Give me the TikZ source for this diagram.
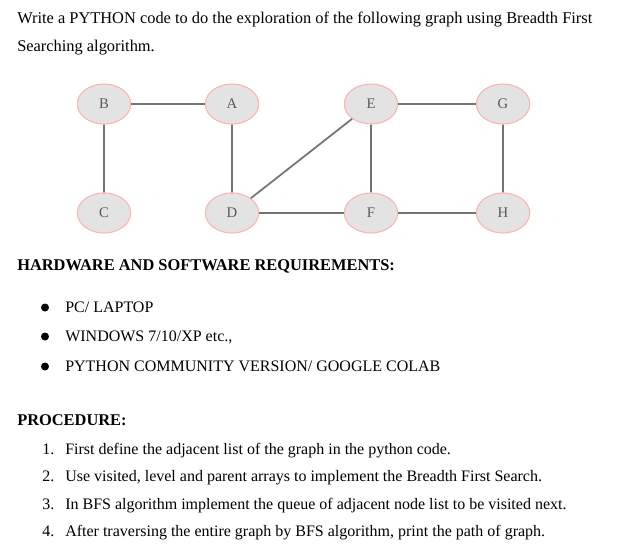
\documentclass[tikz,border=0pt]{standalone}
\usepackage{fontspec}
\setmainfont{Liberation Serif}
\usetikzlibrary{shapes.geometric}
\begin{document}
\begin{tikzpicture}[x=0.75pt,y=-0.75pt,
  vert/.style={ellipse,draw=red!30,fill=gray!22,line width=0.8pt,minimum width=40pt,minimum height=30pt,inner sep=0pt,text=gray!70!black,font=\fontsize{11}{13}\selectfont},
  edge/.style={draw=gray!90!black,line width=1.3pt},
  txt/.style={anchor=base west,inner sep=0pt,font=\fontsize{12.3}{14}\selectfont},
  ptxt/.style={anchor=base west,inner sep=0pt,font=\fontsize{12}{14}\selectfont}]
\useasboundingbox[fill=white] (0,0) rectangle (617,558);
\node[vert] (B) at (104,104) {B};
\node[vert] (A) at (232,104) {A};
\node[vert] (E) at (371,104) {E};
\node[vert] (G) at (503,104) {G};
\node[vert] (C) at (104,213) {C};
\node[vert] (D) at (232,213) {D};
\node[vert] (F) at (371,213) {F};
\node[vert] (H) at (503,213) {H};
\draw[edge] (B)--(A) (B)--(C) (A)--(D) (D)--(E) (D)--(F) (E)--(F) (E)--(G) (G)--(H) (F)--(H);
\node[txt] (t1) at (17,23) {Write a PYTHON code to do the exploration of the following graph using Breadth First};
\node[txt] (t2) at (17,51) {Searching algorithm.};
\node[txt,font=\fontsize{12.3}{14}\selectfont\bfseries] (h1) at (17,270) {HARDWARE AND SOFTWARE REQUIREMENTS:};
\foreach \y/\t [count=\i] in {312/{PC/ LAPTOP},341/{WINDOWS 7/10/XP etc.,},371/{PYTHON COMMUNITY VERSION/ GOOGLE COLAB}}{
  \fill (45,\y-4.5) circle (3pt);
  \node[ptxt] (b\i) at (65,\y) {\t};
}
\node[txt,font=\fontsize{12.3}{14}\selectfont\bfseries] (h2) at (17,425) {PROCEDURE:};
\foreach \y/\t [count=\i] in {454/First define the adjacent list of the graph in the python code.,481/{Use visited, level and parent arrays to implement the Breadth First Search.},509/In BFS algorithm implement the queue of adjacent node list to be visited next.,536/{After traversing the entire graph by BFS algorithm, print the path of graph.}}{
  \node[ptxt] (n\i) at (42,\y) {\i.};
  \node[ptxt] (p\i) at (65,\y) {\t};
}
\end{tikzpicture}
\end{document}
